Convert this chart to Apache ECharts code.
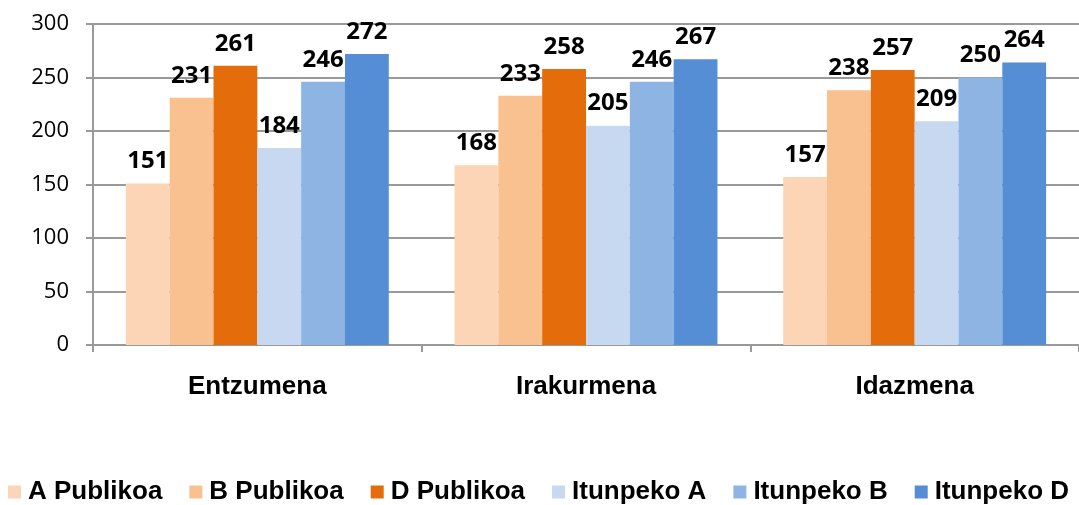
<!DOCTYPE html>
<html>
<head>
<meta charset="utf-8">
<script src="https://cdn.jsdelivr.net/npm/echarts@6/dist/echarts.min.js"></script>
<style>
  html, body { margin: 0; padding: 0; background: #fff; }
  #chart { width: 1079px; height: 505px; }
</style>
</head>
<body>
<div id="chart"></div>
<script>
const categories = ['Entzumena', 'Irakurmena', 'Idazmena']
const seriesNames = ['A Publikoa', 'B Publikoa', 'D Publikoa', 'Itunpeko A', 'Itunpeko B', 'Itunpeko D']
const aPublikoa = [151, 168, 157]
const bPublikoa = [231, 233, 238]
const dPublikoa = [261, 258, 257]
const itunpekoA = [184, 205, 209]
const itunpekoB = [246, 246, 250]
const itunpekoD = [272, 267, 264]
const colors = ['#fbd5b5', '#f9c090', '#e46c0a', '#c6d9f1', '#8eb4e3', '#558ed5']

const values = [aPublikoa, bPublikoa, dPublikoa, itunpekoA, itunpekoB, itunpekoD]

const series = values.map((data, i) => ({
  name: seriesNames[i],
  type: 'bar',
  data: data,
  barGap: '0%',
  barCategoryGap: '20%',
  itemStyle: { color: colors[i] },
  label: {
    show: true,
    position: 'top',
    distance: 10,
    color: '#000',
    fontFamily: 'Open Sans',
    fontWeight: 'bold',
    fontSize: 24
  }
}))

const chart = echarts.init(document.getElementById('chart'))
chart.setOption({
  animation: false,
  color: colors,
  grid: { left: 93, top: 24, width: 990, height: 321 },
  legend: {
    data: seriesNames,
    left: 3,
    top: 474,
    width: 1400,
    itemWidth: 13,
    itemHeight: 13,
    itemGap: 27,
    icon: 'rect',
    textStyle: {
      fontFamily: 'Liberation Sans',
      fontWeight: 'bold',
      fontSize: 26,
      color: '#000',
      padding: [0, 0, 0, 2]
    }
  },
  xAxis: {
    type: 'category',
    data: categories,
    axisLine: { lineStyle: { color: '#999', width: 2 } },
    axisTick: { show: true, length: 7, lineStyle: { color: '#999', width: 2 } },
    axisLabel: {
      margin: 29,
      color: '#000',
      fontFamily: 'Liberation Sans',
      fontWeight: 'bold',
      fontSize: 26
    }
  },
  yAxis: {
    type: 'value',
    min: 0,
    max: 300,
    interval: 50,
    axisLine: { show: true, lineStyle: { color: '#999', width: 2 } },
    axisTick: { show: true, length: 7, lineStyle: { color: '#999', width: 2 } },
    splitLine: { lineStyle: { color: '#999', width: 2 } },
    axisLabel: {
      margin: 24,
      color: '#000',
      fontFamily: 'Open Sans',
      fontSize: 22
    }
  },
  series
})
</script>
</body>
</html>
